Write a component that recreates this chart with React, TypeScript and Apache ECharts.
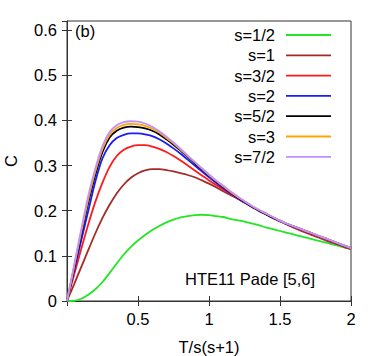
import React, { useEffect, useRef } from "react";
import * as echarts from "echarts";

const xs = [0, 0.05, 0.1, 0.15, 0.2, 0.25, 0.3, 0.35, 0.4, 0.45, 0.5, 0.55, 0.6, 0.65, 0.7, 0.75, 0.8, 0.85, 0.9, 0.95, 1.0, 1.05, 1.1, 1.15, 1.2, 1.25, 1.3, 1.35, 1.4, 1.45, 1.5, 1.55, 1.6, 1.65, 1.7, 1.75, 1.8, 1.85, 1.9, 1.95, 2.0];

const s12 = [0, 0.0005, 0.005, 0.014, 0.026, 0.042, 0.062, 0.083, 0.103, 0.12, 0.134, 0.146, 0.157, 0.166, 0.174, 0.18, 0.185, 0.188, 0.19, 0.191, 0.19, 0.188, 0.186, 0.182, 0.179, 0.176, 0.172, 0.168, 0.163, 0.159, 0.155, 0.151, 0.147, 0.143, 0.139, 0.135, 0.131, 0.127, 0.123, 0.119, 0.115];
const s1 = [0, 0.037, 0.075, 0.113, 0.15, 0.184, 0.213, 0.238, 0.258, 0.273, 0.283, 0.289, 0.292, 0.292, 0.29, 0.287, 0.283, 0.279, 0.274, 0.267, 0.26, 0.252, 0.243, 0.235, 0.227, 0.218, 0.209, 0.2, 0.192, 0.184, 0.176, 0.169, 0.162, 0.155, 0.149, 0.143, 0.137, 0.131, 0.126, 0.12, 0.115];
const s32 = [0, 0.058, 0.115, 0.17, 0.22, 0.262, 0.297, 0.321, 0.335, 0.342, 0.345, 0.345, 0.342, 0.337, 0.33, 0.321, 0.311, 0.3, 0.289, 0.278, 0.267, 0.257, 0.247, 0.237, 0.227, 0.218, 0.209, 0.2, 0.192, 0.184, 0.177, 0.17, 0.163, 0.157, 0.151, 0.145, 0.139, 0.133, 0.127, 0.122, 0.116];
const s2 = [0, 0.067, 0.134, 0.2, 0.265, 0.316, 0.345, 0.361, 0.368, 0.371, 0.371, 0.369, 0.365, 0.358, 0.349, 0.338, 0.326, 0.313, 0.3, 0.287, 0.274, 0.262, 0.25, 0.239, 0.228, 0.218, 0.209, 0.2, 0.192, 0.184, 0.177, 0.17, 0.164, 0.158, 0.152, 0.146, 0.14, 0.134, 0.128, 0.122, 0.117];
const s52 = [0, 0.073, 0.147, 0.218, 0.28, 0.33, 0.362, 0.377, 0.384, 0.386, 0.385, 0.382, 0.377, 0.369, 0.358, 0.346, 0.333, 0.319, 0.305, 0.291, 0.278, 0.265, 0.253, 0.241, 0.23, 0.22, 0.21, 0.201, 0.193, 0.185, 0.178, 0.171, 0.165, 0.159, 0.153, 0.147, 0.141, 0.135, 0.129, 0.123, 0.117];
const s3 = [0, 0.076, 0.153, 0.226, 0.288, 0.337, 0.368, 0.383, 0.39, 0.392, 0.391, 0.388, 0.382, 0.373, 0.361, 0.349, 0.335, 0.321, 0.307, 0.293, 0.279, 0.266, 0.254, 0.242, 0.231, 0.221, 0.211, 0.202, 0.194, 0.186, 0.178, 0.171, 0.165, 0.159, 0.153, 0.147, 0.141, 0.135, 0.129, 0.123, 0.117];
const s72 = [0, 0.079, 0.158, 0.233, 0.294, 0.343, 0.374, 0.389, 0.396, 0.398, 0.397, 0.393, 0.386, 0.376, 0.364, 0.351, 0.337, 0.322, 0.308, 0.294, 0.28, 0.267, 0.255, 0.243, 0.232, 0.221, 0.211, 0.202, 0.194, 0.186, 0.178, 0.171, 0.165, 0.159, 0.153, 0.147, 0.141, 0.135, 0.129, 0.123, 0.117];

const seriesNames = ["s=1/2", "s=1", "s=3/2", "s=2", "s=5/2", "s=3", "s=7/2"];
const seriesValues = [s12, s1, s32, s2, s52, s3, s72];
const seriesColors = ["#22e622", "#a52a2a", "#ff1a1a", "#1a1aff", "#000000", "#ffa500", "#c090ff"];

const xTicks = [0, 0.5, 1, 1.5, 2];
const yTicks = [0, 0.1, 0.2, 0.3, 0.4, 0.5, 0.6];

const FONT = "Liberation Sans, Arial, Helvetica, sans-serif";
const FS = 16.5;

export default function App() {
  const ref = useRef<HTMLDivElement>(null);
  useEffect(() => {
    if (!ref.current) return;
    const chart = echarts.init(ref.current, null, { renderer: "svg" });
    const gridLeft = 67, gridTop = 21, gridRight = 31, gridBottom = 55;
    const axisColor = "#333";
    const fmtX = (v: number) => (xTicks.indexOf(v) > 0 ? String(v) : "");
    const fmtY = (v: number) => {
      const r = Math.round(v * 10) / 10;
      return Math.abs(r - v) < 1e-9 && yTicks.indexOf(r) >= 0 ? String(r) : "";
    };
    const legendGraphics: any[] = [];
    seriesNames.forEach((n, i) => {
      const y = 35 + i * 20.3;
      legendGraphics.push({
        type: "text",
        x: 275,
        y,
        style: { text: n, fill: "#000", font: `${FS}px ${FONT}`, align: "right", verticalAlign: "middle" },
      });
      legendGraphics.push({
        type: "line",
        shape: { x1: 286, y1: y, x2: 331, y2: y },
        style: { stroke: seriesColors[i], lineWidth: 1.8 },
      });
    });
    chart.setOption({
      animation: false,
      backgroundColor: "#fff",
      grid: {
        left: gridLeft,
        top: gridTop,
        right: gridRight,
        bottom: gridBottom,
        containLabel: false,
        outerBoundsMode: "none",
        show: true,
        borderColor: axisColor,
        borderWidth: 1,
        backgroundColor: "transparent",
      },
      xAxis: [
        {
          type: "value",
          min: 0,
          max: 2,
          interval: 0.5,
          name: "T/s(s+1)",
          nameLocation: "middle",
          nameGap: 37,
          nameTextStyle: { fontSize: FS, color: "#000", fontFamily: FONT },
          axisLine: { show: true, lineStyle: { color: axisColor } },
          axisTick: { show: true, inside: true, length: 5, lineStyle: { color: axisColor } },
          axisLabel: { formatter: fmtX, fontSize: FS, color: "#000", fontFamily: FONT, margin: 9 },
          splitLine: { show: false },
        },
        {
          type: "value",
          position: "top",
          min: 0,
          max: 2,
          interval: 0.5,
          axisLine: { show: true, lineStyle: { color: axisColor } },
          axisTick: { show: true, inside: true, length: 5, lineStyle: { color: axisColor } },
          axisLabel: { show: false },
          splitLine: { show: false },
        },
      ],
      yAxis: [
        {
          type: "value",
          min: 0,
          max: 0.62,
          interval: 0.1,
          name: "C",
          nameLocation: "middle",
          nameGap: 48,
          nameTextStyle: { fontSize: FS, color: "#000", fontFamily: FONT },
          axisLine: { show: true, lineStyle: { color: axisColor } },
          axisTick: { show: true, inside: true, length: 5, lineStyle: { color: axisColor } },
          axisLabel: { formatter: fmtY, fontSize: FS, color: "#000", fontFamily: FONT, margin: 10, showMaxLabel: false },
          splitLine: { show: false },
        },
        {
          type: "value",
          position: "right",
          min: 0,
          max: 0.62,
          interval: 0.1,
          axisLine: { show: true, lineStyle: { color: axisColor } },
          axisTick: { show: true, inside: true, length: 5, lineStyle: { color: axisColor } },
          axisLabel: { show: false },
          splitLine: { show: false },
        },
      ],
      series: seriesNames.map((n, i) => ({
        name: n,
        type: "line",
        xAxisIndex: 0,
        yAxisIndex: 0,
        data: xs.map((x, j) => [x, seriesValues[i][j]]),
        smooth: 0.25,
        showSymbol: false,
        symbol: "none",
        lineStyle: { color: seriesColors[i], width: 1.8 },
        itemStyle: { color: seriesColors[i] },
        z: 2 + i,
      })),
      graphic: [
        {
          type: "text",
          x: 75,
          y: 31,
          style: { text: "(b)", fill: "#000", font: `${FS}px ${FONT}`, align: "left", verticalAlign: "middle" },
        },
        {
          type: "text",
          x: 315,
          y: 279,
          style: { text: "HTE11 Pade [5,6]", fill: "#000", font: `${FS}px ${FONT}`, align: "right", verticalAlign: "middle" },
        },
        ...legendGraphics,
      ],
    });
    return () => chart.dispose();
  }, []);
  return <div ref={ref} style={{ position: "fixed", left: 0, top: 0, width: 382, height: 356 }} />;
}
